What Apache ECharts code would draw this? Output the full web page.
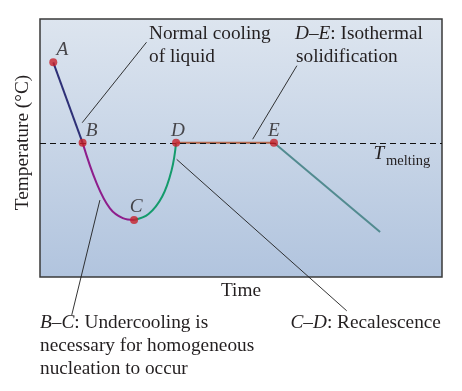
<!DOCTYPE html>
<html>
<head>
<meta charset="utf-8">
<script src="https://cdn.jsdelivr.net/npm/echarts@6/dist/echarts.min.js"></script>
<style>
  html, body { margin: 0; padding: 0; background: #ffffff; }
  #chart { width: 462px; height: 391px; }
</style>
</head>
<body>
<div id="chart"></div>
<script>
// Cooling curve of a pure metal: time (arbitrary units) vs temperature (arbitrary units)
const T_MELT = 52;

// Liquid cooling A -> B
const segAB = [[3.3, 83.2], [10.6, 52]];
// Undercooling B -> C
const segBC = [[10.6, 52], [14.1, 36.3], [17.4, 26.6], [20.6, 22.8], [23.4, 22.1]];
// Recalescence C -> D
const segCD = [[23.4, 22.1], [27.0, 24.4], [30.4, 31.2], [32.75, 41.5], [33.85, 52]];
// Isothermal solidification D -> E
const segDE = [[33.85, 52], [58.2, 52]];
// Solid cooling after E
const segSolid = [[58.2, 52], [84.6, 17.4]];

// Labelled points
const pointNames = ['A', 'B', 'C', 'D', 'E'];
const pointValues = [[3.3, 83.2], [10.6, 52], [23.4, 22.1], [33.85, 52], [58.2, 52]];
const pointLabelOffsets = [[9, -12.5], [9, -12], [2, -13], [2, -12], [0, -12]];

// Leader lines from the curve out to the annotation texts
const leaderNormal = [[10.5, 59.8], [26.5, 91.0]];
const leaderIso = [[52.9, 53.4], [63.9, 81.9]];
const leaderRecal = [[34.0, 45.6], [76.3, -13.1]];
const leaderUnder = [[14.9, 29.8], [7.9, -14.7]];

const SERIF = '"Liberation Serif", "Times New Roman", serif';
const INK = '#231f20';
const FS = 19.3;

const chart = echarts.init(document.getElementById('chart'), null, { renderer: 'canvas' });

function curve(data, color, smooth) {
  return {
    type: 'line', data: data, showSymbol: false, smooth: smooth || false,
    lineStyle: { color: color, width: 2 }, silent: true, z: 3
  };
}
function leader(data) {
  return {
    type: 'line', data: data, showSymbol: false, clip: false, silent: true,
    lineStyle: { color: '#1e1e1e', width: 0.9 }, z: 2
  };
}

function txt(x, baseline, text, extra) {
  return {
    type: 'text', left: x, top: baseline - 16, silent: true,
    style: Object.assign({
      text: text, fontFamily: SERIF, fontSize: FS, fill: INK,
      rich: { i: { fontStyle: 'italic', fontFamily: SERIF, fontSize: FS, color: INK } }
    }, extra || {})
  };
}

chart.setOption({
  animation: false,
  backgroundColor: '#ffffff',
  grid: {
    left: 40, top: 19, right: 20, bottom: 114, show: true,
    borderColor: '#3a3a3a', borderWidth: 1.5,
    backgroundColor: new echarts.graphic.LinearGradient(0, 0, 0, 1, [
      { offset: 0, color: '#dde5ef' },
      { offset: 1, color: '#b1c4de' }
    ])
  },
  xAxis: {
    type: 'value', min: 0, max: 100,
    name: 'Time', nameLocation: 'middle', nameGap: 4,
    nameTextStyle: { fontFamily: SERIF, fontSize: FS, color: INK },
    axisLine: { show: false }, axisTick: { show: false }, axisLabel: { show: false }, splitLine: { show: false }
  },
  yAxis: {
    type: 'value', min: 0, max: 100,
    name: 'Temperature (°C)', nameLocation: 'middle', nameGap: 8,
    nameTextStyle: { fontFamily: SERIF, fontSize: FS, color: INK, padding: [0, 0, 0, 11] },
    axisLine: { show: false }, axisTick: { show: false }, axisLabel: { show: false }, splitLine: { show: false }
  },
  series: [
    {
      type: 'line', data: [], silent: true,
      markLine: {
        silent: true, symbol: 'none', label: { show: false },
        lineStyle: { color: '#111', width: 1, type: [6, 4] },
        data: [{ yAxis: T_MELT }]
      }
    },
    leader(leaderNormal), leader(leaderIso), leader(leaderRecal), leader(leaderUnder),
    curve(segAB, '#2e3077'),
    curve(segBC, '#8e1e8c', 0.4),
    curve(segCD, '#149b6c', 0.4),
    curve(segDE, '#b4694f'),
    curve(segSolid, '#528b90'),
    {
      type: 'scatter', symbolSize: 8, z: 5, silent: true,
      itemStyle: { color: '#c8202b' },
      data: pointValues.map((v, i) => ({
        name: pointNames[i], value: v,
        label: {
          show: true, position: 'inside', offset: pointLabelOffsets[i],
          formatter: pointNames[i],
          fontStyle: 'italic', fontFamily: SERIF, fontSize: FS, color: INK
        }
      }))
    }
  ],
  graphic: [
    txt(149, 40, 'Normal cooling'),
    txt(149, 63, 'of liquid'),
    txt(295, 40, '{i|D}–{i|E}: Isothermal'),
    txt(296, 63, 'solidification'),
    txt(40, 329, '{i|B}–{i|C}: Undercooling is'),
    txt(40, 352.5, 'necessary for homogeneous'),
    txt(40, 375, 'nucleation to occur'),
    txt(290.5, 329, '{i|C}–{i|D}: Recalescence'),
    txt(373.5, 160, 'T', { fontStyle: 'italic' }),
    { type: 'text', left: 386, top: 166 - 12, silent: true,
      style: { text: 'melting', fontFamily: SERIF, fontSize: 14.5, fill: INK } }
  ]
});
</script>
</body>
</html>
